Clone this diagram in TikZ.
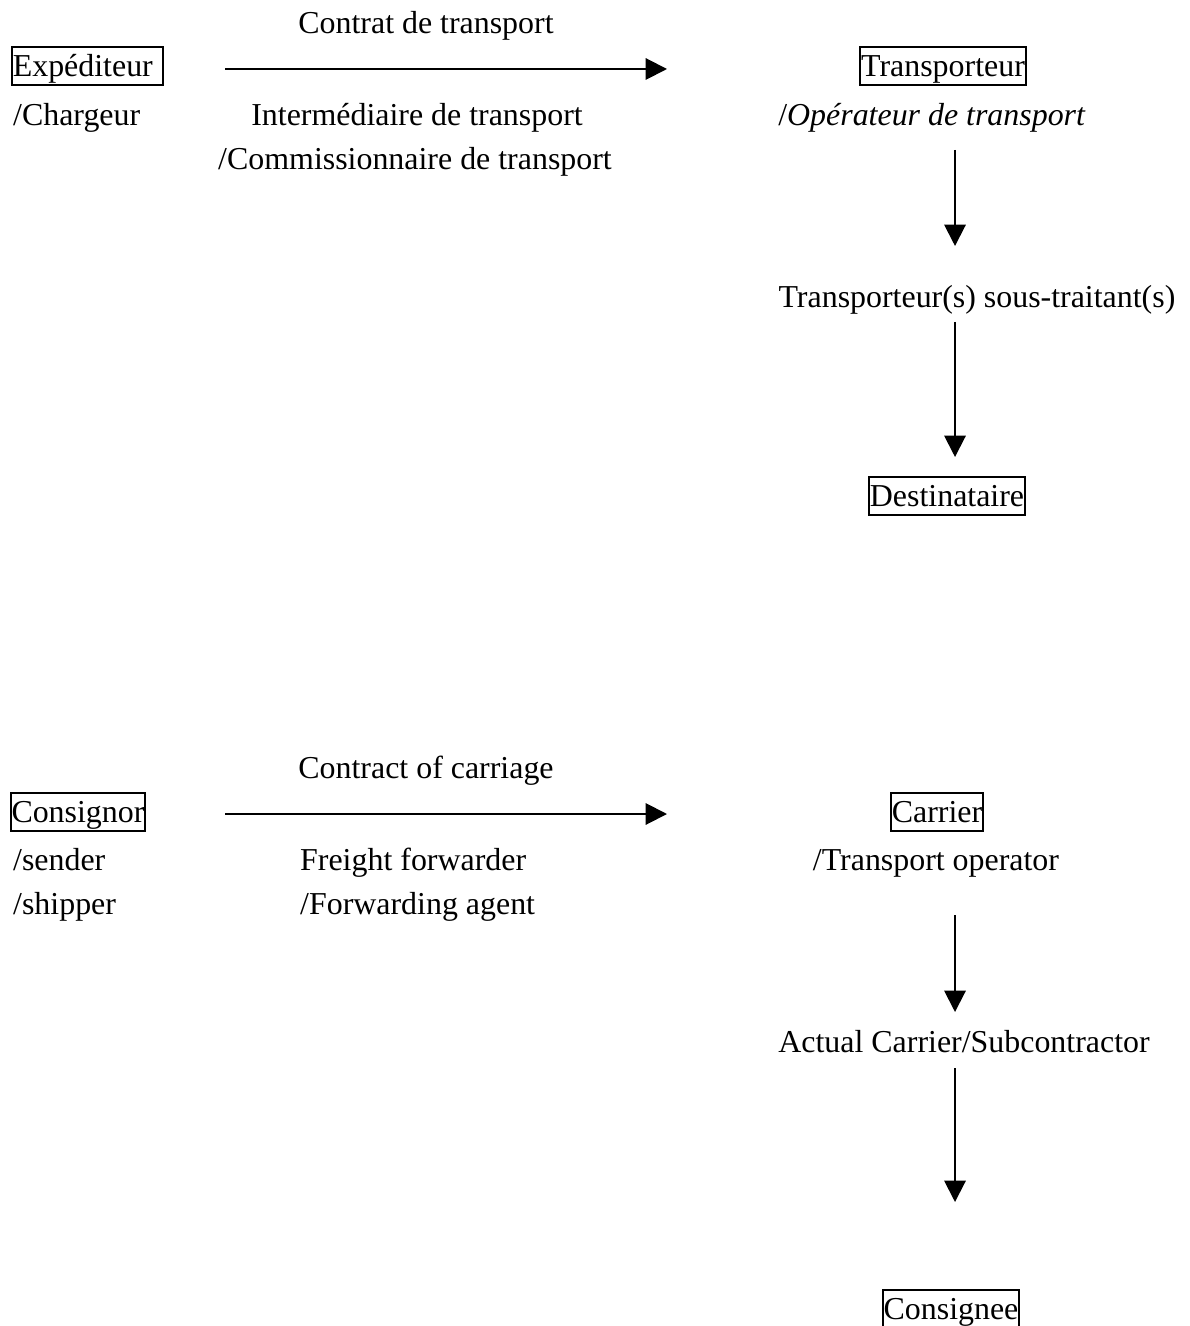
\documentclass[tikz,border=0pt]{standalone}
\usepackage{fontspec}
\setmainfont{Liberation Serif}
\usetikzlibrary{arrows.meta,positioning}
\tikzset{party/.style={draw,line width=0.75pt,inner xsep=0.3pt,inner ysep=1pt,text height=10pt,text depth=2pt,font=\fontsize{12}{14}\selectfont},
txt/.style={inner sep=1pt,text height=10pt,text depth=2pt,font=\fontsize{12}{14}\selectfont}}

\begin{document}
\begin{tikzpicture}[x=0.376pt,y=-0.376pt,
                    link/.style={-{Triangle[length=8pt,width=8pt]},line width=0.75pt}]
\useasboundingbox (0,0) rectangle (1189,1326);

%FRENCH part
 \node[txt] (ContratFr) at (426,23) {Contrat de transport};
 \node[party,anchor=west] (Expediteur) at (11,66) {Expéditeur\kern3.6pt};
 \node[txt,anchor=west] (Chargeur) at (10,115) {/Chargeur};
 \node[txt] (IntermFr) at (417,115) {Intermédiaire de transport};
 \node[txt] (CommissFr) at (415,159) {/Commissionnaire de transport};

 \node[party] (Transporteur) at (943,66) {Transporteur};
 \node[txt] (OperateurFr) at (932,115) {/\textit{Opérateur de transport}};
 \node[txt] (SousTraitant) at (977,297) {Transporteur(s) sous-traitant(s)};
 \node[party] (Destinataire) at (947,496) {Destinataire};

 \coordinate (ContratStartFr) at (225,69);
 \coordinate (ContratEndFr) at (667,69);
 \draw[link] (ContratStartFr)--(ContratEndFr);

 \coordinate (DownA1) at (955,150);
 \coordinate (DownA2) at (955,246);
 \draw[link] (DownA1)--(DownA2);

 \coordinate (DownB1) at (955,322);
 \coordinate (DownB2) at (955,457);
 \draw[link] (DownB1)--(DownB2);

%ENGLISH part
 \node[txt] (ContratEn) at (426,768) {Contract of carriage};
 \node[party] (Consignor) at (78,812) {Consignor};
 \node[txt,anchor=west] (Sender) at (10,860) {/sender};
 \node[txt,anchor=west] (Shipper) at (10,904) {/shipper};
 \node[txt,anchor=west] (Forwarder) at (297,860) {Freight forwarder};
 \node[txt,anchor=west] (Agent) at (297,904) {/Forwarding agent};

 \node[party] (Carrier) at (937,812) {Carrier};
 \node[txt] (OperatorEn) at (936,860) {/Transport operator};
 \node[txt] (Subcontractor) at (964,1042) {Actual Carrier/Subcontractor};
 \node[party] (Consignee) at (951,1309) {Consignee};

 \coordinate (ContratStartEn) at (225,814);
 \coordinate (ContratEndEn) at (667,814);
 \draw[link] (ContratStartEn)--(ContratEndEn);

 \coordinate (DownC1) at (955,915);
 \coordinate (DownC2) at (955,1012);
 \draw[link] (DownC1)--(DownC2);

 \coordinate (DownD1) at (955,1068);
 \coordinate (DownD2) at (955,1202);
 \draw[link] (DownD1)--(DownD2);

\end{tikzpicture}
\end{document}
